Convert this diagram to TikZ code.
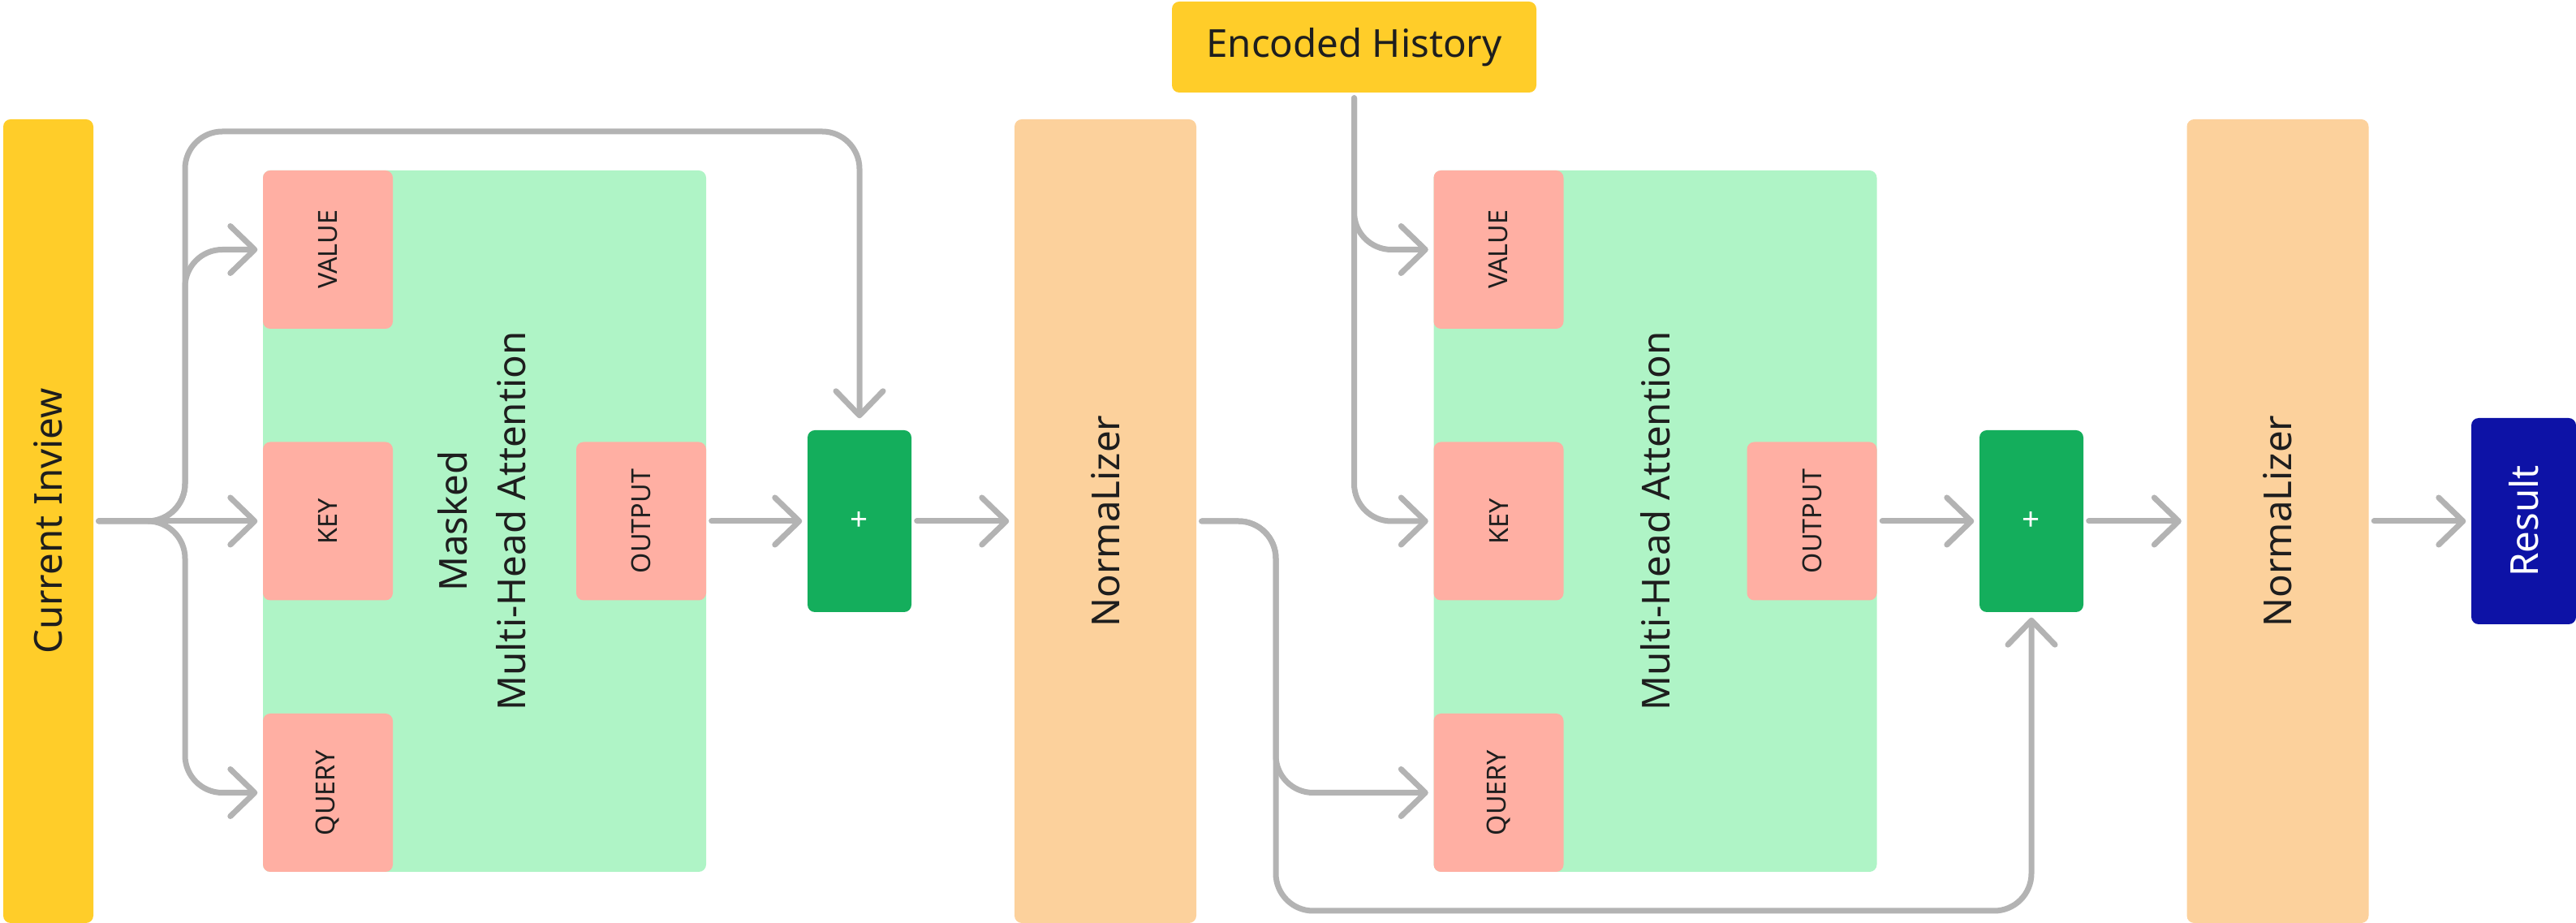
\documentclass[tikz,border=0pt]{standalone}
\usepackage{fontspec}
\setmainfont{Noto Sans}
\setsansfont{Noto Sans}
\usetikzlibrary{arrows.meta,positioning,calc}
\definecolor{tfyellow}{HTML}{FFCD29}
\definecolor{tfmint}{HTML}{AFF4C6}
\definecolor{tfsalmon}{HTML}{FFAFA3}
\definecolor{tfgreen}{HTML}{14AE5C}
\definecolor{tforange}{HTML}{FCD19C}
\definecolor{tfnavy}{HTML}{0D12A6}
\definecolor{tfgrey}{HTML}{B3B3B3}
\definecolor{tfink}{HTML}{1E1E1E}

\begin{document}
\begin{tikzpicture}[
    block/.style={rectangle,rounded corners=0.09cm,inner sep=0pt,text=tfink,
      font=\fontsize{13.5}{20.5}\selectfont},
    part/.style={block,fill=tfsalmon,minimum width=1.6cm,minimum height=1.95cm,
      font=\fontsize{9.2}{11}\selectfont},
    adder/.style={block,fill=tfgreen,text=white,minimum width=1.28cm,minimum height=2.24cm,
      font=\fontsize{11}{13}\selectfont},
    normbar/.style={block,fill=tforange,minimum width=2.24cm,minimum height=9.9cm},
    attn/.style={block,fill=tfmint,minimum width=5.46cm,minimum height=8.64cm},
    flow/.style={draw=tfgrey,line width=0.07cm,line cap=round,rounded corners=0.46cm,
      shorten <=0.06cm,shorten >=0.06cm,
      -{Straight Barb[length=0.3cm,width=0.58cm,round]}}]
  \useasboundingbox (0,0) rectangle (31.74,11.37);

  \node[block,fill=tfyellow,minimum width=1.11cm,minimum height=9.9cm] (inview)
    at (0.595,4.95) {\rotatebox{90}{Current Inview}};
  \node[attn] (att1) at (5.97,4.95)
    {\rotatebox{90}{\begin{tabular}{@{}c@{}}Masked\\Multi-Head Attention\end{tabular}}};
  \node[adder] (plus1) at (10.59,4.95) {+};
  \node[normbar] (norm1) at (13.62,4.95) {\rotatebox{90}{NormaLizer}};
  \node[block,fill=tfyellow,minimum width=4.49cm,minimum height=1.12cm] (history)
    at (16.685,10.79) {Encoded History};
  \node[attn] (att2) at (20.395,4.95) {\rotatebox{90}{Multi-Head Attention}};
  \node[adder] (plus2) at (25.03,4.95) {+};
  \node[normbar] (norm2) at (28.065,4.95) {\rotatebox{90}{NormaLizer}};
  \node[block,fill=tfnavy,text=white,minimum width=1.29cm,minimum height=2.54cm] (result)
    at (31.095,4.95) {\rotatebox{90}{Result}};

  \foreach \blk in {1,2} {
    \node[part,anchor=north west] (value\blk) at (att\blk.north west) {\rotatebox{90}{VALUE}};
    \node[part,anchor=west] (key\blk) at (att\blk.west) {\rotatebox{90}{KEY}};
    \node[part,anchor=south west] (query\blk) at (att\blk.south west) {\rotatebox{90}{QUERY}};
    \node[part,anchor=east] (output\blk) at (att\blk.east) {\rotatebox{90}{OUTPUT}};
  }

  \coordinate (split) at (2.28,4.95);
  \coordinate (skip) at (2.28,9.75);
  \coordinate (drop) at (15.72,4.95);
  \coordinate (floor) at (15.72,0.15);

  \draw[flow] (inview) -- (key1);
  \draw[flow] (inview) -- (split) |- (value1);
  \draw[flow] (inview) -- (split) |- (query1);
  \draw[flow,shorten >=0.14cm] (inview) -- (split) -- (skip) -| (plus1);
  \draw[flow] (output1) -- (plus1);
  \draw[flow] (plus1) -- (norm1);
  \draw[flow] (history) |- (value2);
  \draw[flow] (history) |- (key2);
  \draw[flow] (norm1) -- (drop) |- (query2);
  \draw[flow] (norm1) -- (drop) -- (floor) -| (plus2);
  \draw[flow] (output2) -- (plus2);
  \draw[flow] (plus2) -- (norm2);
  \draw[flow] (norm2) -- (result);
\end{tikzpicture}
\end{document}
